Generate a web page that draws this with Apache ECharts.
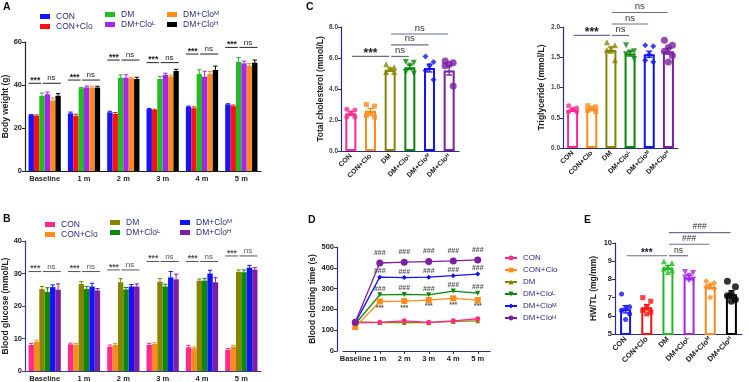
<!DOCTYPE html>
<html>
<head>
<meta charset="utf-8">
<script src="https://cdn.jsdelivr.net/npm/echarts@6/dist/echarts.min.js"></script>
<style>
  html, body { margin: 0; padding: 0; background: #fff; }
  #chart { width: 749px; height: 382px; }
</style>
</head>
<body>
<div id="chart"></div>
<script>
const months = ['Baseline', '1 m', '2 m', '3 m', '4 m', '5 m'];
const groups = ['CON', 'CON+Clo', 'DM', 'DM+CloL', 'DM+CloM', 'DM+CloH'];

// A - body weight (g), one array per group over months
const bwCON    = [26.0, 26.8, 27.3, 28.8, 29.9, 31.0];
const bwCONClo = [25.7, 25.7, 26.5, 28.4, 29.2, 30.2];
const bwDM     = [34.9, 38.5, 43.4, 42.8, 45.1, 50.8];
const bwCloL   = [35.7, 38.9, 43.4, 44.7, 43.9, 50.1];
const bwCloM   = [32.8, 38.8, 43.1, 43.9, 45.1, 49.0];
const bwCloH   = [35.0, 38.8, 42.8, 46.5, 47.0, 50.4];
const bwErrCON    = [0.3, 0.6, 0.5, 0.3, 0.3, 0.3];
const bwErrCONClo = [0.4, 0.7, 0.7, 0.3, 0.6, 0.5];
const bwErrDM     = [1.4, 0.3, 1.3, 1.2, 2.0, 2.0];
const bwErrCloL   = [1.0, 0.6, 1.4, 0.8, 2.5, 1.0];
const bwErrCloM   = [1.2, 0.6, 0.5, 0.7, 1.2, 1.0];
const bwErrCloH   = [1.0, 0.6, 0.8, 0.8, 1.8, 1.2];
const bwSigLevel  = [40.8, 42.3, 51.6, 50.4, 54.4, 57.5];

// B - blood glucose (mmol/L)
const bgCON    = [8.0, 8.2, 7.5, 8.0, 7.3, 6.5];
const bgCONClo = [9.0, 8.1, 8.0, 8.3, 7.0, 7.5];
const bgDM     = [25.2, 26.8, 27.3, 27.5, 27.8, 30.5];
const bgCloL   = [24.3, 25.2, 25.1, 26.0, 27.8, 30.4];
const bgCloM   = [25.8, 26.0, 26.0, 28.8, 30.0, 31.8];
const bgCloH   = [25.0, 24.8, 26.0, 28.2, 27.3, 31.2];
const bgErrCON    = [0.5, 0.4, 0.5, 0.5, 0.6, 0.4];
const bgErrCONClo = [0.5, 0.4, 0.5, 0.4, 0.4, 0.4];
const bgErrDM     = [0.8, 0.7, 1.1, 1.0, 0.5, 0.6];
const bgErrCloL   = [1.3, 0.8, 0.6, 0.7, 0.7, 0.7];
const bgErrCloM   = [0.7, 1.0, 0.6, 1.8, 1.0, 0.7];
const bgErrCloH   = [1.8, 0.6, 0.8, 1.6, 1.4, 0.6];
const bgSigLevel  = [30.6, 30.6, 31.1, 33.7, 33.7, 35.4];
const pairLabels  = ['***', 'ns'];

// C - total cholesterol and triglyceride (mmol/L)
const tcMean = [2.43, 2.6, 5.25, 5.4, 5.35, 5.2];
const tcErr  = [0.12, 0.15, 0.1, 0.15, 0.25, 0.3];
const tcPts  = [
  [2.7, 2.65, 2.45, 2.2, 2.2],
  [3.0, 2.9, 2.4, 2.3, 2.2],
  [5.6, 5.4, 5.3, 5.1, 5.1],
  [5.75, 5.7, 5.5, 5.1, 5.0],
  [6.1, 5.75, 5.5, 5.2, 4.6],
  [5.8, 5.7, 5.6, 5.5, 4.2]
];
const tcSig = [[0, 2, 6.1, '***'], [2, 3, 6.1, 'ns'], [2, 4, 6.85, 'ns'], [2, 5, 7.55, 'ns']];

const tgMean = [0.63, 0.64, 1.62, 1.56, 1.55, 1.6];
const tgErr  = [0.02, 0.02, 0.05, 0.04, 0.05, 0.05];
const tgPts  = [
  [0.7, 0.66, 0.64, 0.6, 0.6],
  [0.7, 0.68, 0.66, 0.62, 0.6],
  [1.75, 1.7, 1.65, 1.62, 1.45],
  [1.7, 1.6, 1.58, 1.55, 1.47],
  [1.7, 1.68, 1.55, 1.45, 1.42],
  [1.78, 1.7, 1.66, 1.6, 1.53, 1.42]
];
const tgSig = [[0, 2, 1.86, '***'], [2, 3, 1.86, 'ns'], [2, 4, 2.05, 'ns'], [2, 5, 2.24, 'ns']];

// D - blood clotting time (s)
const ctCON    = [135, 138, 145, 138, 145, 155];
const ctCONClo = [115, 238, 240, 245, 253, 245];
const ctDM     = [140, 137, 137, 136, 142, 145];
const ctCloL   = [130, 270, 272, 270, 288, 278];
const ctCloM   = [135, 355, 353, 355, 362, 370];
const ctCloH   = [138, 423, 427, 430, 433, 438];
const ctMarkCONClo = ['', '***', '***', '***', '***', '***'];
const ctMarkCloL   = ['', '###', '###', '###', '###', '###'];
const ctMarkCloM   = ['', '###', '###', '###', '###', '###'];
const ctMarkCloH   = ['', '###', '###', '###', '###', '###'];

// E - HW/TL (mg/mm)
const hwMean = [6.36, 6.47, 8.66, 8.1, 7.6, 7.18];
const hwErr  = [0.2, 0.15, 0.1, 0.12, 0.12, 0.2];
const hwPts  = [
  [7.2, 6.5, 6.4, 6.3, 6.1, 5.8],
  [7.0, 6.8, 6.5, 6.3, 6.2, 6.1],
  [9.0, 8.9, 8.7, 8.6, 8.5, 8.4],
  [8.4, 8.35, 8.2, 8.1, 8.0, 7.95],
  [7.9, 7.8, 7.7, 7.6, 7.5, 7.0],
  [7.9, 7.6, 7.2, 7.1, 6.9, 6.8]
];
const hwSig = [[0, 2, 9.3, '***'], [2, 3, 9.3, 'ns'], [2, 4, 9.93, '###'], [2, 5, 10.57, '###']];

const FONT = '"Liberation Sans", Arial, sans-serif';
const palA = ['#1414ff', '#ff1010', '#22bb22', '#a526ee', '#ff8a1c', '#000000'];
const palB = ['#ff2a8c', '#ff8c1a', '#858500', '#0b870b', '#1212ff', '#7c1fa0'];
const NAVY = '#2b2d7e';
const SLATE = '#6a6c94';
const GAP = 0.18;
const JIT = [-4, 4, 0, -4, 4, 0];
const dotSym = [
  { symbol: 'circle', size: 5, rot: 0 },
  { symbol: 'rect', size: 5, rot: 0 },
  { symbol: 'triangle', size: 6, rot: 0 },
  { symbol: 'triangle', size: 6, rot: 180 },
  { symbol: 'diamond', size: 6, rot: 0 },
  { symbol: 'circle', size: 7, rot: 0 }
];

function supLabel(name) {
  const m = name.match(/^DM\+Clo([LMH])$/);
  return m ? '{t|DM+Clo}{s|' + m[1] + '}' : '{t|' + name + '}';
}
function richFor(size, color, weight) {
  return {
    t: { fontSize: size, fontFamily: FONT, fontWeight: weight, color: color },
    s: { fontSize: size * 0.7, fontFamily: FONT, fontWeight: weight, color: color, verticalAlign: 'top' }
  };
}

const chart = echarts.init(document.getElementById('chart'));

const grid = [
  { left: 25, top: 42, width: 236, height: 129 },
  { left: 25, top: 241, width: 236, height: 130 },
  { left: 341, top: 27, width: 118, height: 124 },
  { left: 563, top: 27, width: 115, height: 121 },
  { left: 343, top: 247, width: 147, height: 104 },
  { left: 615, top: 243, width: 127, height: 91 }
].map(g => Object.assign({ outerBoundsMode: 'none' }, g));

function monthAxis(gi, color, tick) {
  return {
    gridIndex: gi, type: 'category', data: months,
    axisLine: { lineStyle: { color: color, width: 1.2 } },
    axisTick: { show: tick, alignWithLabel: true, length: 3, lineStyle: { color: color } },
    axisLabel: { interval: 0, fontFamily: FONT, fontWeight: 'bold', fontSize: 7.5, color: '#222', margin: 4 }
  };
}
function groupAxis(gi, size) {
  return {
    gridIndex: gi, type: 'category', data: groups,
    axisLine: { lineStyle: { color: NAVY, width: 1.2 } },
    axisTick: { alignWithLabel: true, length: 2, lineStyle: { color: NAVY } },
    axisLabel: { interval: 0, rotate: 45, margin: 4, formatter: supLabel, rich: richFor(size, '#222', 'bold') }
  };
}
function valAxis(gi, min, max, step, name, gap, color, opts) {
  return Object.assign({
    gridIndex: gi, type: 'value', min: min, max: max, interval: step,
    axisLine: { show: true, lineStyle: { color: color, width: 1.2 } },
    axisTick: { show: true, length: 3, lineStyle: { color: color } },
    splitLine: { show: false },
    axisLabel: { fontFamily: FONT, fontWeight: 'bold', fontSize: 7.5, color: '#222', margin: 3 },
    name: name, nameLocation: 'middle', nameGap: gap,
    nameTextStyle: { fontFamily: FONT, fontWeight: 'bold', fontSize: 8.5, color: '#222' }
  }, opts || {});
}

const xAxis = [
  monthAxis(0, '#222', false),
  monthAxis(1, '#3a3a80', false),
  groupAxis(2, 7),
  groupAxis(3, 7),
  monthAxis(4, NAVY, true),
  groupAxis(5, 7.5)
];
const smallLbl = d => ({ fontFamily: FONT, fontWeight: 'bold', fontSize: 6.5, color: '#444', margin: 3, formatter: v => v.toFixed(d) });
const yAxis = [
  valAxis(0, 0, 60, 20, 'Body weight (g)', 12, '#222'),
  valAxis(1, 0, 40, 10, 'Blood glucose (mmol/L)', 13, '#3a3a80'),
  valAxis(2, 0, 8, 2, 'Total cholesterol (mmol/L)', 16, NAVY, { axisLabel: smallLbl(1) }),
  valAxis(3, 0, 2, 0.5, 'Triglyceride (mmol/L)', 17, NAVY, { axisLabel: smallLbl(1) }),
  valAxis(4, 0, 500, 100, 'Blood clotting time (s)', 16, NAVY, { offset: 6 }),
  valAxis(5, 5, 10, 1, 'HW/TL (mg/mm)', 17, NAVY)
];

function groupedErr(gi, k, means, errs, color) {
  return {
    type: 'custom', xAxisIndex: gi, yAxisIndex: gi, z: 3, silent: true,
    data: means.map((m, i) => [i, m, errs[i]]),
    renderItem: (params, api) => {
      const band = api.size([1, 0])[0];
      const bw = band * (1 - GAP) / 6;
      const base = api.coord([api.value(0), api.value(1)]);
      const top = api.coord([api.value(0), api.value(1) + api.value(2)]);
      const x = base[0] + (k - 2.5) * bw;
      const c = bw * 0.4;
      const st = { stroke: color, lineWidth: 1 };
      return { type: 'group', children: [
        { type: 'line', shape: { x1: x, y1: base[1], x2: x, y2: top[1] }, style: st },
        { type: 'line', shape: { x1: x - c, y1: top[1], x2: x + c, y2: top[1] }, style: st }
      ] };
    }
  };
}

function pairSig(gi, levels, color, size) {
  return {
    type: 'custom', xAxisIndex: gi, yAxisIndex: gi, z: 5, silent: true,
    data: levels.map((v, i) => [i, v]),
    renderItem: (params, api) => {
      const band = api.size([1, 0])[0];
      const bw = band * (1 - GAP) / 6;
      const p = api.coord([api.value(0), api.value(1)]);
      const l0 = p[0] - 3 * bw, split = p[0] - 0.5 * bw, r1 = p[0] + 3 * bw;
      const seg = (a, b) => ({ type: 'line', shape: { x1: a, y1: p[1], x2: b, y2: p[1] }, style: { stroke: color, lineWidth: 1 } });
      const txt = (s, x, dy, w, fs) => ({ type: 'text', x: x, y: p[1] + dy, style: {
        text: s, fill: color, fontFamily: FONT, fontSize: fs, fontWeight: w, align: 'center', verticalAlign: 'bottom' } });
      return { type: 'group', children: [
        seg(l0, split - 0.8), seg(split + 0.8, r1),
        txt(pairLabels[0], (l0 + split) / 2, 2, 'bold', size),
        txt(pairLabels[1], (split + r1) / 2, -1, 'normal', size - 0.5)
      ] };
    }
  };
}

function compSig(gi, comps, color, starSize, nsSize) {
  return {
    type: 'custom', xAxisIndex: gi, yAxisIndex: gi, z: 5, silent: true,
    data: comps.map(c => [c[0], c[2]]),
    renderItem: (params, api) => {
      const c = comps[params.dataIndex];
      const a = api.coord([c[0], c[2]]), b = api.coord([c[1], c[2]]);
      const lbl = c[3];
      const big = lbl === '***';
      return { type: 'group', children: [
        { type: 'line', shape: { x1: a[0] + 1, y1: a[1], x2: b[0] - 1, y2: a[1] }, style: { stroke: color, lineWidth: 1.2 } },
        { type: 'text', x: (a[0] + b[0]) / 2, y: a[1] + (big ? starSize * 0.25 : -1), style: {
          text: lbl, fill: big ? '#222' : '#333', fontFamily: FONT, fontWeight: big ? 'bold' : 'normal',
          fontSize: big ? starSize : nsSize, align: 'center', verticalAlign: 'bottom' } }
      ] };
    }
  };
}

function hollowBars(gi, means, errs, pal) {
  return [{
    type: 'bar', xAxisIndex: gi, yAxisIndex: gi, barWidth: 11, z: 2, silent: true,
    data: means.map((v, i) => ({ value: v, itemStyle: { color: '#fff', borderColor: pal[i], borderWidth: 2 } }))
  }, {
    type: 'custom', xAxisIndex: gi, yAxisIndex: gi, z: 3, silent: true,
    data: means.map((m, i) => [i, m, errs[i]]),
    renderItem: (params, api) => {
      const col = pal[params.dataIndex];
      const hi = api.coord([api.value(0), api.value(1) + api.value(2)]);
      const lo = api.coord([api.value(0), api.value(1) - api.value(2)]);
      const st = { stroke: col, lineWidth: 1.3 };
      return { type: 'group', children: [
        { type: 'line', shape: { x1: hi[0], y1: hi[1], x2: lo[0], y2: lo[1] }, style: st },
        { type: 'line', shape: { x1: hi[0] - 3, y1: hi[1], x2: hi[0] + 3, y2: hi[1] }, style: st },
        { type: 'line', shape: { x1: lo[0] - 3, y1: lo[1], x2: lo[0] + 3, y2: lo[1] }, style: st }
      ] };
    }
  }];
}

function dots(gi, ptsList, pal, scale) {
  return ptsList.map((pts, i) => ({
    type: 'scatter', xAxisIndex: gi, yAxisIndex: gi, z: 4, silent: true,
    symbol: dotSym[i].symbol, symbolSize: dotSym[i].size * scale, symbolRotate: dotSym[i].rot,
    itemStyle: { color: pal[i] },
    data: pts.map((v, j) => ({ value: [i, v], symbolOffset: [JIT[j % JIT.length], 0] }))
  }));
}

const series = [];

// A
const bwVals = [bwCON, bwCONClo, bwDM, bwCloL, bwCloM, bwCloH];
const bwErrs = [bwErrCON, bwErrCONClo, bwErrDM, bwErrCloL, bwErrCloM, bwErrCloH];
bwVals.forEach((vals, k) => {
  series.push({ type: 'bar', name: 'a|' + groups[k], xAxisIndex: 0, yAxisIndex: 0, data: vals,
    barGap: '0%', barCategoryGap: (GAP * 100) + '%', itemStyle: { color: palA[k] }, z: 2 });
  series.push(groupedErr(0, k, vals, bwErrs[k], palA[k]));
});
series.push(pairSig(0, bwSigLevel, '#222', 8.5));

// B
const bgVals = [bgCON, bgCONClo, bgDM, bgCloL, bgCloM, bgCloH];
const bgErrs = [bgErrCON, bgErrCONClo, bgErrDM, bgErrCloL, bgErrCloM, bgErrCloH];
bgVals.forEach((vals, k) => {
  series.push({ type: 'bar', name: 'b|' + groups[k], xAxisIndex: 1, yAxisIndex: 1, data: vals,
    barGap: '0%', barCategoryGap: (GAP * 100) + '%', itemStyle: { color: palB[k] }, z: 2 });
  series.push(groupedErr(1, k, vals, bgErrs[k], palB[k]));
});
series.push(pairSig(1, bgSigLevel, '#555', 8.5));

// C
series.push(...hollowBars(2, tcMean, tcErr, palB));
series.push(...dots(2, tcPts, palB, 1));
series.push(compSig(2, tcSig, SLATE, 12, 9.5));
series.push(...hollowBars(3, tgMean, tgErr, palB));
series.push(...dots(3, tgPts, palB, 1));
series.push(compSig(3, tgSig, SLATE, 12, 9.5));

// D
const ctVals = [ctCON, ctCONClo, ctDM, ctCloL, ctCloM, ctCloH];
const ctMarks = [null, ctMarkCONClo, null, ctMarkCloL, ctMarkCloM, ctMarkCloH];
const ctSym = [
  { symbol: 'circle', size: 5, rot: 0 },
  { symbol: 'rect', size: 6, rot: 0 },
  { symbol: 'triangle', size: 5, rot: 0 },
  { symbol: 'triangle', size: 5, rot: 180 },
  { symbol: 'diamond', size: 5, rot: 0 },
  { symbol: 'circle', size: 7, rot: 0 }
];
const ctOrder = [2, 0, 1, 3, 4, 5];
ctOrder.forEach(k => {
  const marks = ctMarks[k];
  series.push({
    type: 'line', name: 'd|' + groups[k], xAxisIndex: 4, yAxisIndex: 4, data: ctVals[k],
    symbol: ctSym[k].symbol, symbolSize: ctSym[k].size, symbolRotate: ctSym[k].rot, showAllSymbol: true,
    lineStyle: { color: palB[k], width: 1.3 }, itemStyle: { color: palB[k] },
    label: marks ? {
      show: true, position: k === 1 ? 'bottom' : 'top', distance: k === 5 ? 3 : 0,
      formatter: p => marks[p.dataIndex], fontFamily: FONT, fontSize: 7, fontWeight: 'bold', color: '#555'
    } : { show: false },
    labelLayout: { hideOverlap: false },
    z: 3
  });
});

// E
series.push(...hollowBars(5, hwMean, hwErr, palA));
series.push(...dots(5, hwPts, palA, 1));
series.push(compSig(5, hwSig, SLATE, 10, 8.5));

function legendCol(names, left, top, gap, icon, iw, ih, size) {
  const l = {
    orient: 'vertical', left: left, top: top, data: names, itemWidth: iw, itemHeight: ih, itemGap: gap,
    padding: 0, selectedMode: false,
    formatter: n => supLabel(n.split('|')[1]),
    textStyle: { fontFamily: FONT, color: NAVY, padding: [0, 0, 0, 1], rich: richFor(size, NAVY, 'normal') }
  };
  if (icon) l.icon = icon;
  return l;
}

const legend = [
  legendCol(['a|CON', 'a|CON+Clo'], 40, 12, 1, 'rect', 10, 5, 8.5),
  legendCol(['a|DM', 'a|DM+CloL'], 105, 10, 1, 'rect', 10, 5, 8.5),
  legendCol(['a|DM+CloM', 'a|DM+CloH'], 167, 10, 1, 'rect', 10, 5, 8.5),
  legendCol(['b|CON', 'b|CON+Clo'], 45, 220, 1, 'rect', 10, 5, 8.5),
  legendCol(['b|DM', 'b|DM+CloL'], 110, 218, 1, 'rect', 10, 5, 8.5),
  legendCol(['b|DM+CloM', 'b|DM+CloH'], 180, 218, 1, 'rect', 10, 5, 8.5),
  legendCol(['d|CON', 'd|CON+Clo', 'd|DM', 'd|DM+CloL', 'd|DM+CloM', 'd|DM+CloH'], 504, 254, 4, null, 12, 6, 8)
];

const letter = (t, x, y) => ({ text: t, left: x, top: y, padding: 0,
  textStyle: { fontFamily: FONT, fontWeight: 'bold', fontSize: 10.5, color: '#111' } });

chart.setOption({
  animation: false,
  title: [letter('A', 3, 2), letter('B', 3, 214), letter('C', 306, 2), letter('D', 308, 215), letter('E', 584, 215)],
  legend: legend,
  grid: grid,
  xAxis: xAxis,
  yAxis: yAxis,
  series: series
});

window.addEventListener('resize', () => chart.resize());
</script>
</body>
</html>
